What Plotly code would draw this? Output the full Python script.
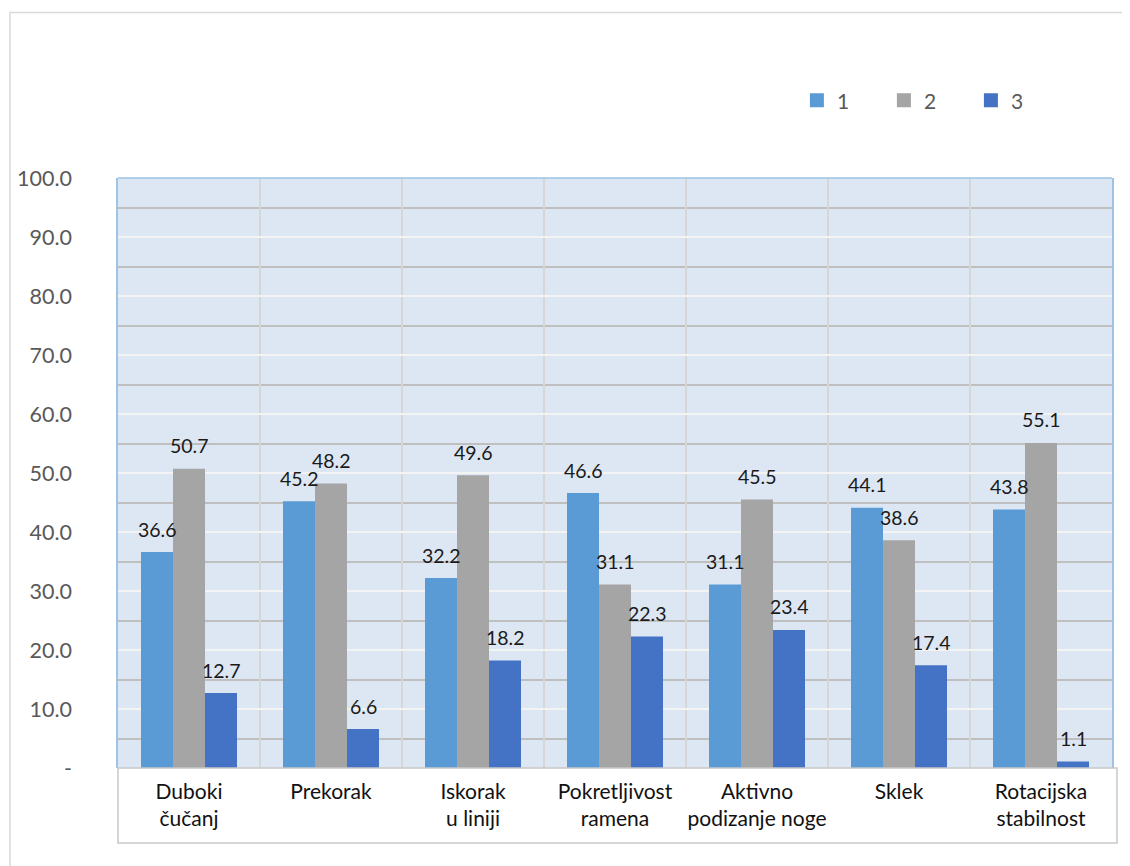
import plotly.graph_objects as go

categories = ["Duboki<br>čučanj", "Prekorak", "Iskorak<br>u liniji", "Pokretljivost<br>ramena",
              "Aktivno<br>podizanje noge", "Sklek", "Rotacijska<br>stabilnost"]
series_names = ["1", "2", "3"]
series1 = [36.6, 45.2, 32.2, 46.6, 31.1, 44.1, 43.8]
series2 = [50.7, 48.2, 49.6, 31.1, 45.5, 38.6, 55.1]
series3 = [12.7, 6.6, 18.2, 22.3, 23.4, 17.4, 1.1]
ytick_vals = [0, 10, 20, 30, 40, 50, 60, 70, 80, 90, 100]
ytick_text = ["-", "10.0", "20.0", "30.0", "40.0", "50.0", "60.0", "70.0", "80.0", "90.0", "100.0"]

colors = ["#5B9BD5", "#A5A5A5", "#4472C4"]
all_series = [series1, series2, series3]
FONT = "Lato"

BARGAP = 0.324
bar_w = (1 - BARGAP) / 3

fig = go.Figure()
for name, vals, col in zip(series_names, all_series, colors):
    fig.add_trace(go.Bar(x=categories, y=vals, name=name, showlegend=False,
                         marker=dict(color=col, line=dict(width=0))))
# legend entries (square swatches)
for name, col in zip(series_names, colors):
    fig.add_trace(go.Scatter(x=[None], y=[None], mode="markers", name=name,
                             marker=dict(symbol="square", size=14, color=col)))

annotations = []
for k, vals in enumerate(all_series):
    off = (k - 1) * bar_w
    for i, v in enumerate(vals):
        annotations.append(dict(x=i + off, y=v, xref="x", yref="y", text=f"{v:.1f}",
                                showarrow=False, yanchor="middle", yshift=23,
                                font=dict(family=FONT, size=19.5, color="#1a1a1a")))

shapes = [
    # outer chart border
    dict(type="rect", xref="paper", yref="paper", x0=-0.1087, x1=1.1, y0=-0.3, y1=1.2805,
         line=dict(color="#D9D9D9", width=1.5), fillcolor="rgba(0,0,0,0)", layer="below"),
    # plot area top border
    dict(type="line", xref="paper", yref="paper", x0=0, x1=1, y0=1, y1=1,
         line=dict(color="#9DC3E6", width=1.5), layer="above"),
    # category label box
    dict(type="rect", xref="paper", yref="paper", x0=0, x1=1.005, y0=-0.127, y1=0,
         line=dict(color="#C8C8C8", width=1.5), fillcolor="rgba(0,0,0,0)", layer="above"),
]

fig.update_layout(
    width=1122, height=858,
    margin=dict(l=110, r=18, t=170, b=98, autoexpand=False),
    paper_bgcolor="white", plot_bgcolor="#DDE7F3",
    barmode="group", bargap=BARGAP, bargroupgap=0,
    font=dict(family=FONT, color="#595959"),
    showlegend=True,
    legend=dict(orientation="h", x=0.683, y=1.131, xanchor="left", yanchor="middle",
                font=dict(family=FONT, size=21, color="#595959"),
                entrywidth=42, entrywidthmode="pixels", itemwidth=30,
                bgcolor="rgba(0,0,0,0)"),
    xaxis=dict(type="category", categoryorder="array", categoryarray=categories,
               range=[-0.5, len(categories) - 0.5], tickangle=0, automargin=False,
               showgrid=True, gridcolor="#D6D6D6", gridwidth=1.5,
               tickson="boundaries", ticks="", showline=False, zeroline=False,
               tickfont=dict(family=FONT, size=21, color="#111111"),
               ticklabelstandoff=9),
    yaxis=dict(range=[0, 100], tickmode="array", tickvals=ytick_vals, ticktext=ytick_text,
               automargin=False,
               showgrid=True, gridcolor="#F3F3F3", gridwidth=1.5,
               minor=dict(tick0=5, dtick=10, showgrid=True, gridcolor="#BFBFBF", gridwidth=1.5, ticks=""),
               showline=True, mirror=True, linecolor="#9DC3E6", linewidth=1.5,
               zeroline=False, ticks="", ticklabelstandoff=40,
               tickfont=dict(family=FONT, size=21.5, color="#595959")),
    shapes=shapes,
    annotations=annotations,
)

fig.write_html("out.html")
